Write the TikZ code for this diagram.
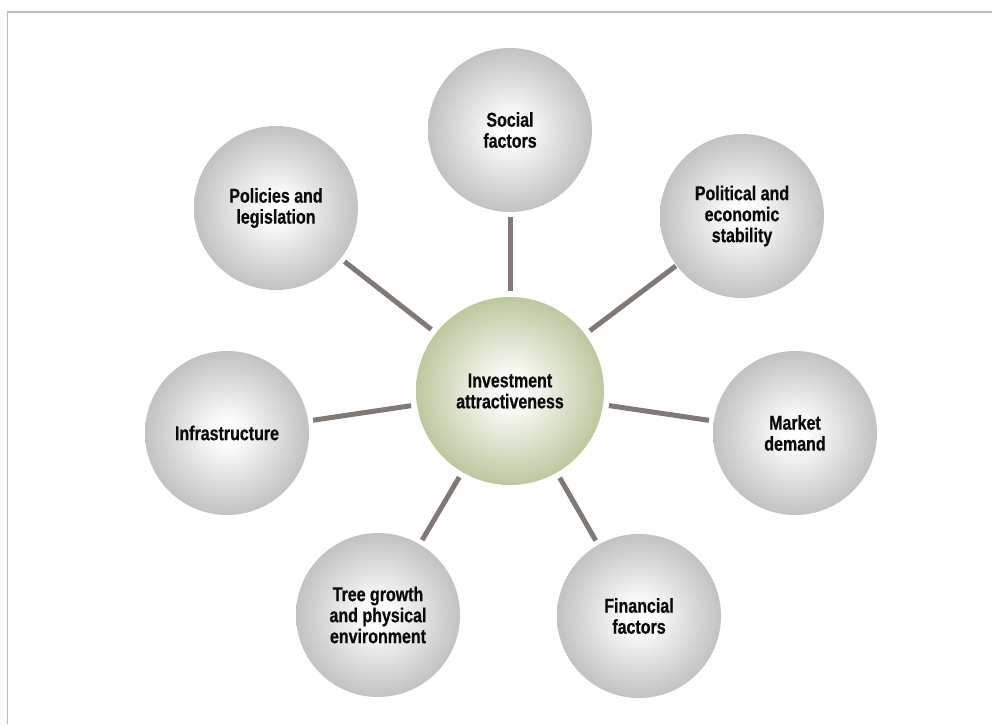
\documentclass[tikz,border=0pt]{standalone}
\usepackage{fontspec}
\newfontfamily\lblfont[FakeStretch=0.8,BoldFeatures={FakeBold=0.6}]{Liberation Sans}
\definecolor{ballgray}{RGB}{194,194,194}
\definecolor{ballgreen}{RGB}{189,200,158}
\definecolor{conncol}{RGB}{128,121,117}
\definecolor{framecol}{RGB}{188,188,188}
\definecolor{textcol}{RGB}{10,10,10}
\pgfdeclareradialshading{grayball}{\pgfpoint{0bp}{0bp}}{color(0bp)=(white); color(3bp)=(white); color(25bp)=(ballgray); color(50bp)=(ballgray)}
\pgfdeclareradialshading{greenball}{\pgfpoint{0bp}{0bp}}{color(0bp)=(white); color(3bp)=(white); color(25bp)=(ballgreen); color(50bp)=(ballgreen)}
\tikzset{
  ball/.style={circle, minimum size=164pt, inner sep=0pt, outer sep=0pt, shading=grayball,
    align=center, text=textcol, font=\lblfont\bfseries\fontsize{20}{21}\selectfont},
  hub/.style={ball, minimum size=188pt, shading=greenball},
  conn/.style={draw=conncol, line width=5pt, shorten <=6pt, shorten >=5pt},
  frameline/.style={draw=framecol, line width=1.5pt}
}
\begin{document}
\begin{tikzpicture}[x=1pt,y=-1pt]
\useasboundingbox (0,0) rectangle (992,724);
\draw[frameline] (7.5,724) -- (7.5,12) -- (992,12);
\node[hub] (c) at (510,391) {Investment\\attractiveness};
\node[ball] (soc) at (510,130) {Social\\factors};
\node[ball] (pol) at (742,216) {Political and\\economic\\stability};
\node[ball] (mkt) at (795,433) {Market\\demand};
\node[ball] (fin) at (639,616) {Financial\\factors};
\node[ball] (tree) at (378,615) {Tree growth\\and physical\\environment};
\node[ball] (inf) at (227,433) {Infrastructure};
\node[ball] (plc) at (276,208) {Policies and\\legislation};
\draw[conn] (c) -- (soc);
\draw[conn, shorten >=1pt] (c) -- (pol);
\draw[conn] (c) -- (mkt);
\draw[conn] (c) -- (fin);
\draw[conn] (c) -- (tree);
\draw[conn] (c) -- (inf);
\draw[conn] (c) -- (plc);
\end{tikzpicture}
\end{document}
